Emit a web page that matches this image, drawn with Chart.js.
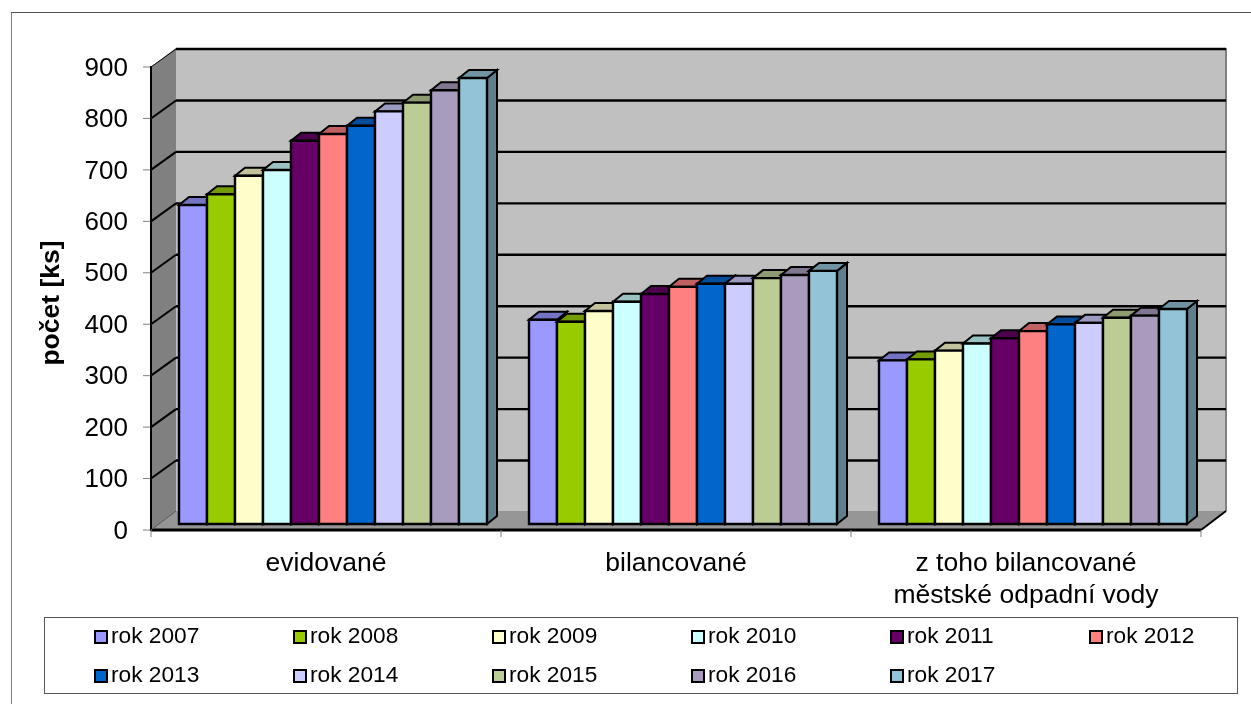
<!DOCTYPE html>
<html>
<head>
<meta charset="utf-8">
<title>počet [ks]</title>
<script src="https://cdn.jsdelivr.net/npm/chart.js@4/dist/chart.umd.min.js"></script>
<style>
  body { margin: 0; background: #fff; }
  canvas { display: block; }
</style>
</head>
<body>
<canvas id="wasteChart" width="1251" height="704"></canvas>
<script>
const categories = ["evidované", "bilancované", ["z toho bilancované", "městské odpadní vody"]];
const years = ["rok 2007", "rok 2008", "rok 2009", "rok 2010", "rok 2011", "rok 2012", "rok 2013", "rok 2014", "rok 2015", "rok 2016", "rok 2017"];
const evidovane = [620, 641, 677, 688, 745, 758, 774, 802, 819, 843, 867];
const bilancovane = [397, 393, 414, 432, 447, 461, 467, 467, 478, 484, 492];
const mestske = [318, 320, 337, 351, 361, 375, 388, 391, 401, 405, 418];
const barColors = ["#9999ff", "#99cc00", "#ffffcc", "#ccffff", "#660066", "#ff8080", "#0066cc", "#ccccff", "#bbcc94", "#a99bbd", "#93c3d7"];
const yTitle = "počet [ks]";
const FONT = '"Liberation Sans", Arial, sans-serif';

// depth of the box and of the columns, in px
const WALL_DX = 25, WALL_DY = 19;
const BAR_SHIFT_X = 7, BAR_SHIFT_Y = 6;
const BAR_DX = 10, BAR_DY = 8;

function shade(hex, k) {
  const n = parseInt(hex.slice(1), 16);
  const c = [n >> 16, (n >> 8) & 255, n & 255].map((v) => Math.round(v * k));
  return `rgb(${c[0]},${c[1]},${c[2]})`;
}

function poly(ctx, pts, fill, stroke, width) {
  ctx.beginPath();
  pts.forEach((p, i) => (i ? ctx.lineTo(p[0], p[1]) : ctx.moveTo(p[0], p[1])));
  ctx.closePath();
  if (fill) {
    ctx.fillStyle = fill;
    ctx.fill();
  }
  if (stroke) {
    ctx.strokeStyle = stroke;
    ctx.lineWidth = width;
    ctx.stroke();
  }
}

function line(ctx, x1, y1, x2, y2, color, width) {
  ctx.beginPath();
  ctx.moveTo(x1, y1);
  ctx.lineTo(x2, y2);
  ctx.strokeStyle = color;
  ctx.lineWidth = width;
  ctx.stroke();
}

// frame, walls, floor, gridlines and axis ticks
const box3d = {
  id: "box3d",
  beforeDraw(chart) {
    const { ctx, chartArea: a, scales } = chart;
    const yScale = scales.y;
    const L = a.left, R = a.right, T = a.top, B = a.bottom;
    ctx.save();
    ctx.fillStyle = "#fff";
    ctx.fillRect(0, 0, chart.width, chart.height);

    // chart frame
    line(ctx, 11.5, 12, 11.5, 704, "#808080", 1);
    line(ctx, 11, 12.5, 1251, 12.5, "#555555", 1);

    // back wall, side wall, floor
    poly(ctx, [[L + WALL_DX, T - WALL_DY], [R + WALL_DX, T - WALL_DY], [R + WALL_DX, B - WALL_DY], [L + WALL_DX, B - WALL_DY]], "#c0c0c0");
    poly(ctx, [[L, T], [L + WALL_DX, T - WALL_DY], [L + WALL_DX, B - WALL_DY], [L, B]], "#808080");
    poly(ctx, [[L, B], [L + WALL_DX, B - WALL_DY], [R + WALL_DX, B - WALL_DY], [R, B]], "#969696");
    line(ctx, R + WALL_DX, T - WALL_DY, R + WALL_DX, B - WALL_DY, "#808080", 2);

    // gridlines run along the back wall and down the side wall
    yScale.ticks.forEach((t) => {
      const y = yScale.getPixelForValue(t.value);
      if (t.value > 0) {
        const w = t.value === 900 ? 1 : 2;
        line(ctx, L, y, L + WALL_DX, y - WALL_DY + 1, "#000", w);
        line(ctx, L + WALL_DX, y - WALL_DY + 1, R + WALL_DX, y - WALL_DY + 1, "#000", 2.4);
      }
      line(ctx, L - 8, y, L, y, "#808080", 1);
    });

    // front edges of the box
    line(ctx, L, T - 1, L, B + 1, "#000", 2);
    line(ctx, L, B, R, B, "#000", 3);
    line(ctx, R, B, R + WALL_DX, B - WALL_DY, "#000", 2);
    line(ctx, L, B, L + WALL_DX, B - WALL_DY, "#555555", 1);

    // category ticks
    for (let i = 0; i <= categories.length; i++) {
      const x = L + ((R - L) * i) / categories.length;
      line(ctx, x, B, x, B + 7, "#808080", 1);
    }

    // value axis title
    ctx.translate(52, 303);
    ctx.rotate(-Math.PI / 2);
    ctx.font = "bold 26.5px " + FONT;
    ctx.fillStyle = "#000";
    ctx.textAlign = "center";
    ctx.textBaseline = "middle";
    ctx.fillText(yTitle, 0, 0);
    ctx.restore();
  },
  // columns go left to right so each one covers the side of the previous one
  beforeDatasetsDraw(chart) {
    const { ctx } = chart;
    ctx.save();
    ctx.translate(BAR_SHIFT_X, -BAR_SHIFT_Y);
    ctx.lineJoin = "miter";
    chart.getSortedVisibleDatasetMetas().forEach((meta, i) => {
      const color = barColors[i];
      meta.data.forEach((el) => {
        const x0 = el.x - el.width / 2, x1 = el.x + el.width / 2, top = el.y, base = el.base;
        poly(ctx, [[x1, top], [x1 + BAR_DX, top - BAR_DY], [x1 + BAR_DX, base - BAR_DY], [x1, base]], shade(color, 0.65), "#000", 2);
        poly(ctx, [[x0, top], [x0 + BAR_DX, top - BAR_DY], [x1 + BAR_DX, top - BAR_DY], [x1, top]], shade(color, 0.76), "#000", 2);
        el.draw(ctx);
        poly(ctx, [[x0, top], [x1, top], [x1, base], [x0, base]], null, "#000", 2.4);
      });
    });
    ctx.restore();
    return false;
  },
};

// legend box: six columns, two rows
const legendBox = {
  id: "legendBox",
  afterDraw(chart) {
    const { ctx } = chart;
    ctx.save();
    ctx.strokeStyle = "#555555";
    ctx.lineWidth = 1;
    ctx.strokeRect(44.5, 617.5, 1193, 76);
    ctx.font = "22.7px " + FONT;
    ctx.textBaseline = "middle";
    years.forEach((label, i) => {
      const col = i % 6, row = Math.floor(i / 6);
      const x = 94 + col * 199, y = 630 + row * 39;
      ctx.fillStyle = barColors[i];
      ctx.fillRect(x + 1, y + 1, 12, 12);
      ctx.strokeStyle = "#000";
      ctx.lineWidth = 2;
      ctx.strokeRect(x + 1, y + 1, 12, 12);
      ctx.fillStyle = "#000";
      ctx.fillText(label, x + 17, y + 7);
    });
    ctx.restore();
  },
};

const datasets = years.map((label, i) => ({
  label,
  data: [evidovane[i], bilancovane[i], mestske[i]],
  backgroundColor: barColors[i],
  borderWidth: 0,
}));

new Chart(document.getElementById("wasteChart"), {
  type: "bar",
  data: { labels: categories, datasets },
  options: {
    responsive: false,
    animation: false,
    events: [],
    layout: { padding: { top: 67, right: 50, bottom: 0, left: 0 } },
    datasets: { bar: { categoryPercentage: 0.88, barPercentage: 1 } },
    plugins: {
      legend: { display: false },
      tooltip: { enabled: false },
    },
    scales: {
      x: {
        grid: { display: false, drawTicks: false },
        border: { display: false },
        ticks: { color: "#000", padding: 18, maxRotation: 0, font: { family: FONT, size: 26.5 } },
        afterFit: (s) => { s.height = 174; },
      },
      y: {
        min: 0,
        max: 900,
        grid: { display: false, drawTicks: false },
        border: { display: false },
        ticks: { stepSize: 100, color: "#000", padding: 23, labelOffset: 1.5, font: { family: FONT, size: 26 } },
        afterFit: (s) => { s.width = 151; },
      },
    },
  },
  plugins: [box3d, legendBox],
});
</script>
</body>
</html>
